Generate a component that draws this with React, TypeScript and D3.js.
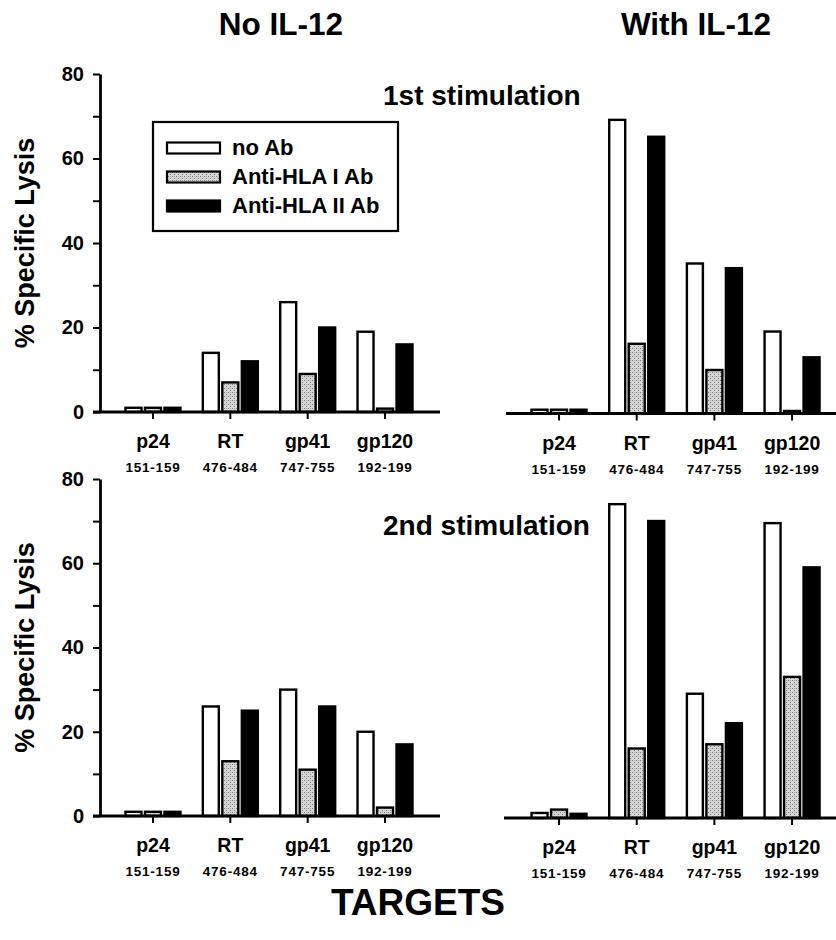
import React, { useEffect, useRef } from 'react';
import * as d3 from 'd3';

const categories = ['p24', 'RT', 'gp41', 'gp120'];
const epitopes = ['151-159', '476-484', '747-755', '192-199'];
const seriesNames = ['no Ab', 'Anti-HLA I Ab', 'Anti-HLA II Ab'];
const columnTitles = ['No IL-12', 'With IL-12'];
const rowTitles = ['1st stimulation', '2nd stimulation'];
const yTickValues = [0, 10, 20, 30, 40, 50, 60, 70, 80];

// 1st stimulation, no IL-12
const s1NoIL12_noAb = [1, 14, 26, 19];
const s1NoIL12_antiHLA1 = [1, 7, 9, 0.8];
const s1NoIL12_antiHLA2 = [1, 12, 20, 16];
// 1st stimulation, with IL-12
const s1IL12_noAb = [0.9, 69.5, 35.5, 19.4];
const s1IL12_antiHLA1 = [0.9, 16.5, 10.3, 0.6];
const s1IL12_antiHLA2 = [0.9, 65.5, 34.4, 13.3];
// 2nd stimulation, no IL-12
const s2NoIL12_noAb = [1, 26, 30, 20];
const s2NoIL12_antiHLA1 = [1, 13, 11, 2];
const s2NoIL12_antiHLA2 = [1, 25, 26, 17];
// 2nd stimulation, with IL-12
const s2IL12_noAb = [1.2, 74.5, 29.5, 70];
const s2IL12_antiHLA1 = [2, 16.5, 17.5, 33.5];
const s2IL12_antiHLA2 = [1, 70.5, 22.5, 59.5];

const FONT = "'Liberation Sans', Arial, Helvetica, sans-serif";

export default function App() {
  const ref = useRef<SVGSVGElement | null>(null);

  useEffect(() => {
    const svg = d3.select(ref.current);
    svg.selectAll('*').remove();

    const defs = svg.append('defs');
    const pat = defs
      .append('pattern')
      .attr('id', 'stipple')
      .attr('patternUnits', 'userSpaceOnUse')
      .attr('width', 4)
      .attr('height', 4);
    pat.append('rect').attr('width', 4).attr('height', 4).attr('fill', '#d6d6d6');
    pat.append('rect').attr('x', 0).attr('y', 0).attr('width', 1).attr('height', 1).attr('fill', '#7a7a7a');
    pat.append('rect').attr('x', 2).attr('y', 2).attr('width', 1).attr('height', 1).attr('fill', '#7a7a7a');
    pat.append('rect').attr('x', 2).attr('y', 0).attr('width', 1).attr('height', 1).attr('fill', '#aaaaaa');

    const fills = ['#ffffff', 'url(#stipple)', '#000000'];

    const panels = [
      { data: [s1NoIL12_noAb, s1NoIL12_antiHLA1, s1NoIL12_antiHLA2], x0: 114.3, x1: 423.7, axisL: 93, axisR: 440, base: 412, top: 74, yAxis: true },
      { data: [s1IL12_noAb, s1IL12_antiHLA1, s1IL12_antiHLA2], x0: 520.2, x1: 830.9, axisL: 506, axisR: 836, base: 413.5, top: 75.5, yAxis: false },
      { data: [s2NoIL12_noAb, s2NoIL12_antiHLA1, s2NoIL12_antiHLA2], x0: 114.3, x1: 423.7, axisL: 93, axisR: 440, base: 816, top: 479, yAxis: true },
      { data: [s2IL12_noAb, s2IL12_antiHLA1, s2IL12_antiHLA2], x0: 520.2, x1: 830.9, axisL: 504, axisR: 836, base: 818, top: 481, yAxis: false },
    ];

    panels.forEach((p) => {
      const g = svg.append('g');
      const x = d3.scaleBand<string>().domain(categories).range([p.x0, p.x1]).padding(0);
      const xs = d3
        .scaleBand<string>()
        .domain(seriesNames)
        .range([-29.25, 29.25])
        .paddingInner(0.18)
        .paddingOuter(0.09);
      const y = d3.scaleLinear().domain([0, 80]).range([p.base, p.top]);

      // bars
      seriesNames.forEach((s, si) => {
        g.append('g')
          .selectAll('rect')
          .data(p.data[si])
          .join('rect')
          .attr('x', (_d, i) => (x(categories[i]) as number) + x.bandwidth() / 2 + (xs(s) as number))
          .attr('y', (d) => y(d))
          .attr('width', xs.bandwidth())
          .attr('height', (d) => p.base - y(d))
          .attr('fill', fills[si])
          .attr('stroke', '#000')
          .attr('stroke-width', 2.4);
      });

      // x axis line
      g.append('line')
        .attr('x1', p.axisL)
        .attr('x2', p.axisR)
        .attr('y1', p.base)
        .attr('y2', p.base)
        .attr('stroke', '#000')
        .attr('stroke-width', 2.8);

      // x ticks via d3 axis
      const xAxis = d3.axisBottom(x).tickSize(7).tickSizeOuter(0).tickFormat(() => '');
      const xg = g.append('g').attr('transform', `translate(0,${p.base})`).call(xAxis);
      xg.select('.domain').remove();
      xg.selectAll('.tick line').attr('stroke', '#000').attr('stroke-width', 2);

      // category labels
      categories.forEach((c, i) => {
        const cx = (x(c) as number) + x.bandwidth() / 2;
        g.append('text')
          .attr('x', cx)
          .attr('y', p.base + 36)
          .attr('text-anchor', 'middle')
          .attr('font-family', FONT)
          .attr('font-weight', 'bold')
          .attr('font-size', 19.5)
          .text(c);
        g.append('text')
          .attr('x', cx)
          .attr('y', p.base + 60)
          .attr('text-anchor', 'middle')
          .attr('font-family', FONT)
          .attr('font-weight', 'bold')
          .attr('font-size', 13.5)
          .attr('letter-spacing', 0.8)
          .text(epitopes[i]);
      });

      if (p.yAxis) {
        const yAxis = d3
          .axisLeft(y)
          .tickValues(yTickValues)
          .tickSize(7)
          .tickSizeOuter(0)
          .tickPadding(9)
          .tickFormat((d) => ((d as number) % 20 === 0 ? String(d) : ''));
        const yg = g.append('g').attr('transform', `translate(100,0)`).call(yAxis);
        yg.select('.domain').attr('stroke', '#000').attr('stroke-width', 2.8);
        yg.selectAll('.tick line').attr('stroke', '#000').attr('stroke-width', 2);
        yg.selectAll('.tick text')
          .attr('font-family', FONT)
          .attr('font-weight', 'bold')
          .attr('font-size', 20)
          .attr('fill', '#000');

        g.append('text')
          .attr('transform', `translate(34,${(p.base + p.top) / 2}) rotate(-90)`)
          .attr('text-anchor', 'middle')
          .attr('font-family', FONT)
          .attr('font-weight', 'bold')
          .attr('font-size', 27)
          .text('% Specific Lysis');
      }
    });

    // column titles
    [281, 696].forEach((cx, i) => {
      svg.append('text')
        .attr('x', cx)
        .attr('y', 35)
        .attr('text-anchor', 'middle')
        .attr('font-family', FONT)
        .attr('font-weight', 'bold')
        .attr('font-size', 31.5)
        .text(columnTitles[i]);
    });

    // row titles
    [105, 535].forEach((by, i) => {
      svg.append('text')
        .attr('x', 383)
        .attr('y', by)
        .attr('font-family', FONT)
        .attr('font-weight', 'bold')
        .attr('font-size', 28)
        .text(rowTitles[i]);
    });

    // TARGETS
    svg.append('text')
      .attr('x', 418)
      .attr('y', 915)
      .attr('text-anchor', 'middle')
      .attr('font-family', FONT)
      .attr('font-weight', 'bold')
      .attr('font-size', 37)
      .text('TARGETS');

    // legend
    const lg = svg.append('g');
    lg.append('rect')
      .attr('x', 153)
      .attr('y', 122)
      .attr('width', 245)
      .attr('height', 109)
      .attr('fill', '#fff')
      .attr('stroke', '#000')
      .attr('stroke-width', 2.2);
    seriesNames.forEach((s, i) => {
      const cy = 148 + i * 29;
      lg.append('rect')
        .attr('x', 167)
        .attr('y', cy - 5.5)
        .attr('width', 53)
        .attr('height', 11)
        .attr('fill', fills[i])
        .attr('stroke', '#000')
        .attr('stroke-width', 2.2);
      lg.append('text')
        .attr('x', 232)
        .attr('y', cy + 7)
        .attr('font-family', FONT)
        .attr('font-weight', 'bold')
        .attr('font-size', 22)
        .text(s);
    });
  }, []);

  return (
    <svg
      ref={ref}
      width={836}
      height={940}
      style={{ position: 'absolute', left: 0, top: 0, background: '#fff' }}
    />
  );
}
